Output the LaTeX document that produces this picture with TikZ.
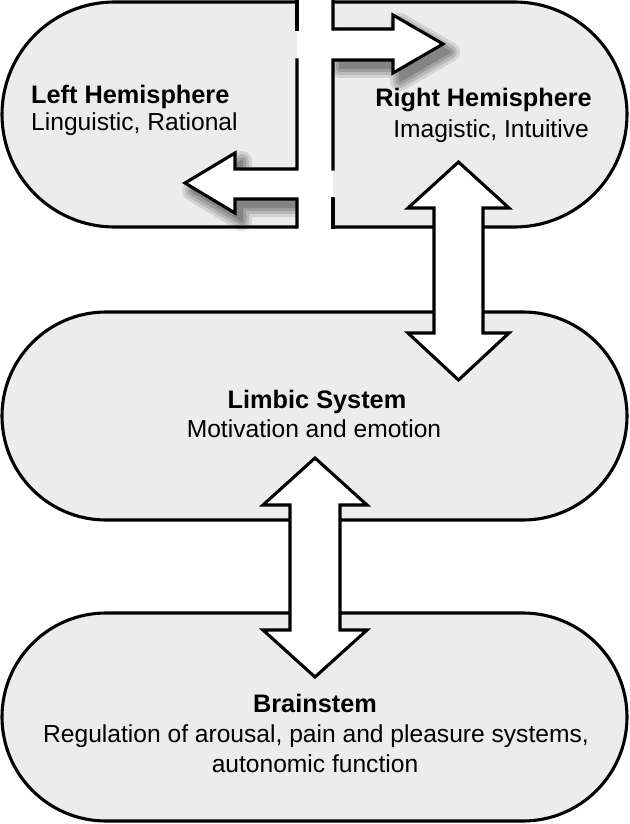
\documentclass[tikz,border=0pt]{standalone}
\usepackage{fontspec}
\setmainfont{Liberation Sans}
\definecolor{boxgray}{RGB}{236,236,236}
\newcommand{\myshadow}[1]{%
  \foreach \w/\o in {20/0.10,14/0.12,8/0.14,2/0.16}{%
    \begin{scope}[transparency group, opacity=\o, shift={(7,8)}]
      \path[fill=black, draw=black, line width=\w pt, line join=round] #1;
    \end{scope}}}
\begin{document}
\begin{tikzpicture}[x=1pt,y=-1pt,
  box/.style={fill=boxgray, draw=black, line width=3.1pt},
  edge/.style={draw=black, line width=3.1pt, line join=miter, line cap=rect},
  bigarrow/.style={fill=white, draw=black, line width=3.1pt, line join=miter},
  title/.style={inner sep=0pt, font=\fontsize{25.3}{30}\selectfont\bfseries},
  sub/.style={inner sep=0pt, font=\fontsize{24.6}{30}\selectfont}]
\useasboundingbox (0,0) rectangle (629,824);
% boxes
\draw[box, rounded corners=112.5pt] (2,2) rectangle (627,227);
\draw[box, rounded corners=104pt] (2,312) rectangle (627,520);
\draw[box, rounded corners=104pt] (2,613) rectangle (627,821);
% shadows of the crossing arrows
\myshadow{(333,29)--(393,29)--(393,15)--(443,44)--(393,73)--(393,60)--(333,60)--cycle}
\myshadow{(297,169)--(235,169)--(235,153)--(185,183)--(235,213)--(235,199)--(297,199)--cycle}
% white channel between hemispheres
\fill[white] (297,-2) rectangle (333,229);
% crossing arrows (white bodies)
\fill[white] (297,29)--(393,29)--(393,15)--(443,44)--(393,73)--(393,60)--(297,60)--cycle;
\fill[white] (333,169)--(235,169)--(235,153)--(185,183)--(235,213)--(235,199)--(333,199)--cycle;
% outlines
\draw[edge] (297,-2)--(297,29);
\draw[edge] (333,-2)--(333,29)--(393,29)--(393,15)--(443,44)--(393,73)--(393,60)--(333,60)--(333,169);
\draw[edge] (297,60)--(297,169)--(235,169)--(235,153)--(185,183)--(235,213)--(235,199)--(297,199)--(297,227);
\draw[edge] (333,199)--(333,227);
% vertical double arrows
\draw[bigarrow] (458.5,162)--(509,208)--(483,208)--(483,333)--(509,333)--(458.5,380)--(408,333)--(434,333)--(434,208)--(408,208)--cycle;
\draw[bigarrow] (315,458)--(367,505)--(340,505)--(340,630)--(367,630)--(315,677)--(263,630)--(290,630)--(290,505)--(263,505)--cycle;
% texts
\node[title, anchor=base west] (lh) at (31,103) {Left Hemisphere};
\node[sub, anchor=base west] (lhs) at (31,131) {Linguistic, Rational};
\node[title, anchor=base east] (rh) at (592,107) {Right Hemisphere};
\node[sub, anchor=base east] (rhs) at (589,137) {Imagistic, Intuitive};
\node[title, anchor=base] (ls) at (317,408) {Limbic System};
\node[sub, anchor=base] (lss) at (314,437) {Motivation and emotion};
\node[title, anchor=base] (bs) at (315,712) {Brainstem};
\node[sub, anchor=base] (bs1) at (316,742) {Regulation of arousal, pain and pleasure systems,};
\node[sub, anchor=base] (bs2) at (315,772) {autonomic function};
\end{tikzpicture}
\end{document}
